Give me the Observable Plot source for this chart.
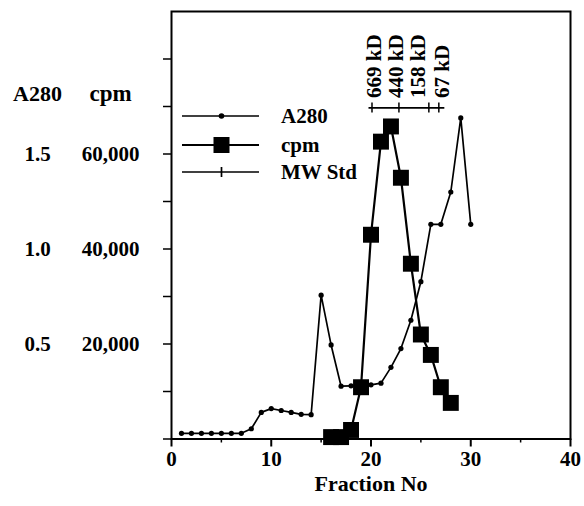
<!DOCTYPE html>
<html><head><meta charset="utf-8">
<script src="https://cdn.jsdelivr.net/npm/d3@7"></script>
<script src="https://cdn.jsdelivr.net/npm/@observablehq/plot@0.6"></script>
<style>
html,body{margin:0;padding:0;background:#fff;}
#chart{width:584px;height:506px;}
</style></head><body><div id="chart"></div>
<script>
// ---- data ----
const fractions = [1,2,3,4,5,6,7,8,9,10,11,12,13,14,15,16,17,18,19,20,21,22,23,24,25,26,27,28,29,30];
const a280 = [0.03,0.03,0.03,0.03,0.03,0.03,0.03,0.054,0.14,0.16,0.15,0.14,0.13,0.128,0.757,0.495,0.278,0.28,0.28,0.285,0.294,0.377,0.476,0.625,0.828,1.13,1.13,1.30,1.69,1.13];
const cpmFractions = [16,17,18,19,20,21,22,23,24,25,26,27,28];
const cpm = [400,400,1900,10900,43000,62600,65800,55000,36900,22000,17700,10900,7600];
const stdFractions = [20.1,22.8,25.8,26.8];
const stdLabels = ["669 kD","440 kD","158 kD","67 kD"];
const stdLevel = 69700;
const xTicks = [0,10,20,30,40];
const xMinorTicks = [5,15,25,35];
const yTicks = [0,10000,20000,30000,40000,50000,60000,70000,80000];
const cpmTickValues = [20000,40000,60000];
const a280TickLabels = ["0.5","1.0","1.5"];
const legendLabels = ["A280","cpm","MW Std"];
const axisTitle = "Fraction No";

// ---- layout (not data) ----
const A280_TO_CPM = 40000;
const labelShift = [0.2,-0.3,-1.1,0.3];
const font = "'Liberation Serif','Times New Roman',serif";

const a280Data = fractions.map((f,i)=>({f, v: a280[i]*A280_TO_CPM}));
const cpmData = cpmFractions.map((f,i)=>({f, v: cpm[i]}));
const stdData = stdFractions.map((f,i)=>({f, lx: f + labelShift[i], label: stdLabels[i]}));
const stdLine = [{x1: stdFractions[0], x2: stdFractions[stdFractions.length-1], y: stdLevel}];

function legend() {
  const g = d3.create("svg:g");
  const rows = [116, 145, 172];
  rows.forEach((y, i) => {
    g.append("line").attr("x1",182).attr("x2",259).attr("y1",y).attr("y2",y)
      .attr("stroke","black").attr("stroke-width", i===1 ? 2.2 : 1.7);
    if (i===0) g.append("circle").attr("cx",221.5).attr("cy",y).attr("r",2.8).attr("fill","black");
    if (i===1) g.append("rect").attr("x",213.5).attr("y",y-8).attr("width",16).attr("height",16).attr("fill","black");
    if (i===2) g.append("line").attr("x1",221.5).attr("x2",221.5).attr("y1",y-5).attr("y2",y+5).attr("stroke","black").attr("stroke-width",1.7);
    g.append("text").attr("x",281).attr("y",y).attr("dy","0.35em").attr("text-anchor","start").attr("fill","black").text(legendLabels[i]);
  });
  return g.node();
}

const plot = Plot.plot({
  width: 584, height: 506,
  marginLeft: 171, marginRight: 14, marginTop: 11, marginBottom: 67.5,
  x: {domain: [0,40]},
  y: {domain: [0,90000]},
  style: {fontFamily: font, fontSize: "21px", fontWeight: "bold", color: "black", background: "white", overflow: "visible"},
  marks: [
    Plot.axisX({ticks: xTicks, tickSize: 8, tickPadding: 4, label: null, strokeWidth: 2}),
    Plot.axisX({ticks: xMinorTicks, tickSize: 4, tickFormat: () => "", label: null, strokeWidth: 1.5}),
    Plot.axisY({ticks: yTicks, tickSize: 8, tickFormat: () => "", label: null, strokeWidth: 1.5}),
    Plot.frame({stroke: "black", strokeWidth: 2}),
    Plot.text(cpmTickValues, {y: d => d, text: d => d3.format(",")(d), frameAnchor: "left", dx: -61, textAnchor: "middle", lineAnchor: "middle"}),
    Plot.text(cpmTickValues, {y: d => d, text: (d,i) => a280TickLabels[i], frameAnchor: "left", dx: -134, textAnchor: "middle", lineAnchor: "middle"}),
    Plot.text(["A280"], {text: d => d, frameAnchor: "top-left", dx: -134, dy: 82, textAnchor: "middle", lineAnchor: "middle", fontSize: 22}),
    Plot.text(["cpm"], {text: d => d, frameAnchor: "top-left", dx: -61, dy: 82, textAnchor: "middle", lineAnchor: "middle", fontSize: 23, letterSpacing: 1}),
    Plot.text([axisTitle], {text: d => d, frameAnchor: "bottom", dy: 45, lineAnchor: "middle", fontSize: 22}),
    Plot.line(a280Data, {x: "f", y: "v", stroke: "black", strokeWidth: 1.7}),
    Plot.dot(a280Data, {x: "f", y: "v", r: 2.6, fill: "black", stroke: null}),
    Plot.line(cpmData, {x: "f", y: "v", stroke: "black", strokeWidth: 2.2}),
    Plot.dot(cpmData, {x: "f", y: "v", symbol: "square", r: 9, fill: "black", stroke: null}),
    Plot.ruleY(stdLine, {y: "y", x1: "x1", x2: "x2", insetLeft: -3, insetRight: -6, stroke: "black", strokeWidth: 1.7}),
    Plot.ruleX(stdData, {x: "f", y1: () => stdLevel, y2: () => stdLevel, insetTop: -5, insetBottom: -5, stroke: "black", strokeWidth: 1.5}),
    Plot.text(stdData, {x: "lx", y: () => stdLevel, text: "label", rotate: -90, textAnchor: "start", lineAnchor: "middle", dy: -10}),
    legend
  ]
});
document.getElementById("chart").appendChild(plot);
</script>
</body></html>
